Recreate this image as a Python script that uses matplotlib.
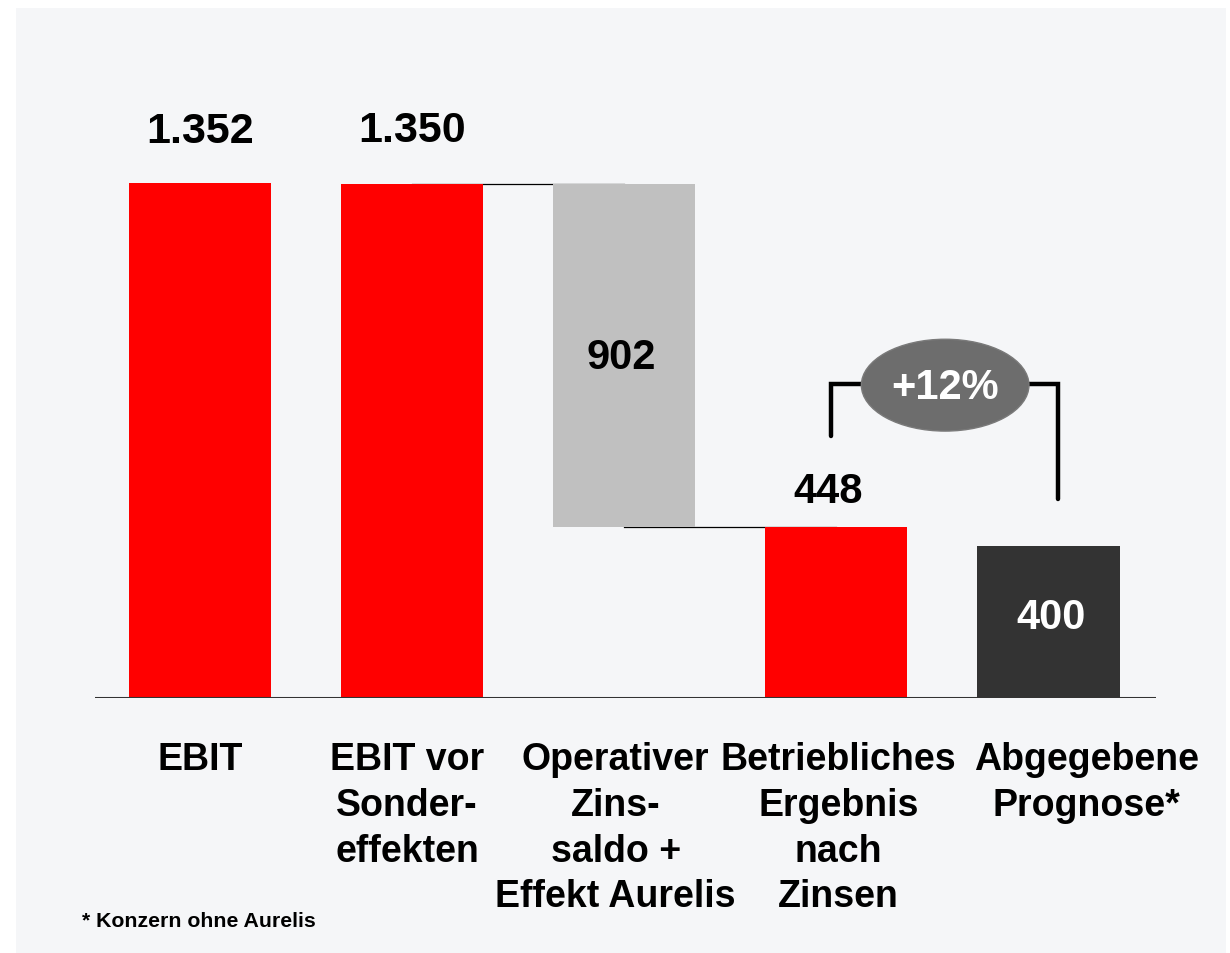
import matplotlib
matplotlib.use('Agg')
import matplotlib.pyplot as plt
from matplotlib.patches import Rectangle, Ellipse

plt.rcParams['font.family'] = ['Liberation Sans', 'DejaVu Sans']
plt.rcParams['font.weight'] = 'bold'

# data
categories = ['EBIT', 'EBIT vor\nSonder-\neffekten', 'Operativer\nZins-\nsaldo +\nEffekt Aurelis',
              'Betriebliches\nErgebnis\nnach\nZinsen', 'Abgegebene\nPrognose*']
value_text = ['1.352', '1.350', '902', '448', '400']
tops = [1352, 1350, 1350, 448, 400]
bottoms = [0, 0, 448, 0, 0]
colors = ['#ff0000', '#ff0000', '#c0c0c0', '#ff0000', '#333333']
growth_text = '+12%'
footnote = '* Konzern ohne Aurelis'

# horizontal shift of category labels relative to bar centres
label_shift = [0, -0.024, -0.04, 0.01, 0.18]

fig = plt.figure(figsize=(12.3, 9.54), dpi=100, facecolor='white')
# light gray panel behind the chart
fig.add_artist(Rectangle((16 / 1230, 0), 1 - 20 / 1230, 1 - 9 / 954,
                         transform=fig.transFigure, facecolor='#f5f6f8',
                         edgecolor='none', zorder=-5))

ax = fig.add_axes([95 / 1230, 255 / 954, 1061 / 1230, 599 / 954])
ax.set_zorder(2)
ax.set_facecolor('none')
ax.set_xlim(-0.495, 4.507)
ax.set_ylim(0, 1572)
for s in ax.spines.values():
    s.set_visible(False)
ax.set_xticks([])
ax.set_yticks([])

x = list(range(len(categories)))
heights = [t - b for t, b in zip(tops, bottoms)]
ax.bar(x, heights, bottom=bottoms, width=0.67, color=colors, zorder=2)
ax.axhline(0, color='#333333', lw=2.2, zorder=3)

# connector lines between bars
ax.plot([1, 2], [tops[1], tops[1]], color='black', lw=0.9, zorder=1)
ax.plot([2, 3], [bottoms[2], bottoms[2]], color='black', lw=0.9, zorder=1)

# value labels
ax.text(0, tops[0] + 135, value_text[0], ha='center', va='center', fontsize=31)
ax.text(1, tops[1] + 140, value_text[1], ha='center', va='center', fontsize=31)
ax.text(1.985, bottoms[2] + heights[2] / 2 - 3, value_text[2], ha='center', va='center', fontsize=30)
ax.text(2.96, tops[3] + 94, value_text[3], ha='center', va='center', fontsize=30)
ax.text(4.01, tops[4] / 2 + 13, value_text[4], ha='center', va='center', fontsize=30, color='white')

# growth bracket
ax.plot([2.975, 2.975, 3.3], [688, 824, 824], color='black', lw=3.2,
        solid_capstyle='round', solid_joinstyle='miter', zorder=3)
ax.plot([3.7, 4.045, 4.045], [824, 824, 522], color='black', lw=3.2,
        solid_capstyle='round', solid_joinstyle='miter', zorder=3)
ax.add_patch(Ellipse((3.513, 821), 0.79, 241, facecolor='#6d6d6d',
                     edgecolor='#7a7a7a', lw=1, zorder=4))
ax.text(3.513, 815, growth_text, ha='center', va='center', fontsize=30,
        color='white', zorder=5)

# category labels
for i, c in enumerate(categories):
    ax.text(i + label_shift[i], -113, c, ha='center', va='top', fontsize=27,
            linespacing=1.35, clip_on=False)

fig.text(82 / 1230, (954 - 927) / 954, footnote, ha='left', va='baseline', fontsize=15.3)

fig.savefig('out.png', dpi=100, facecolor='white')
